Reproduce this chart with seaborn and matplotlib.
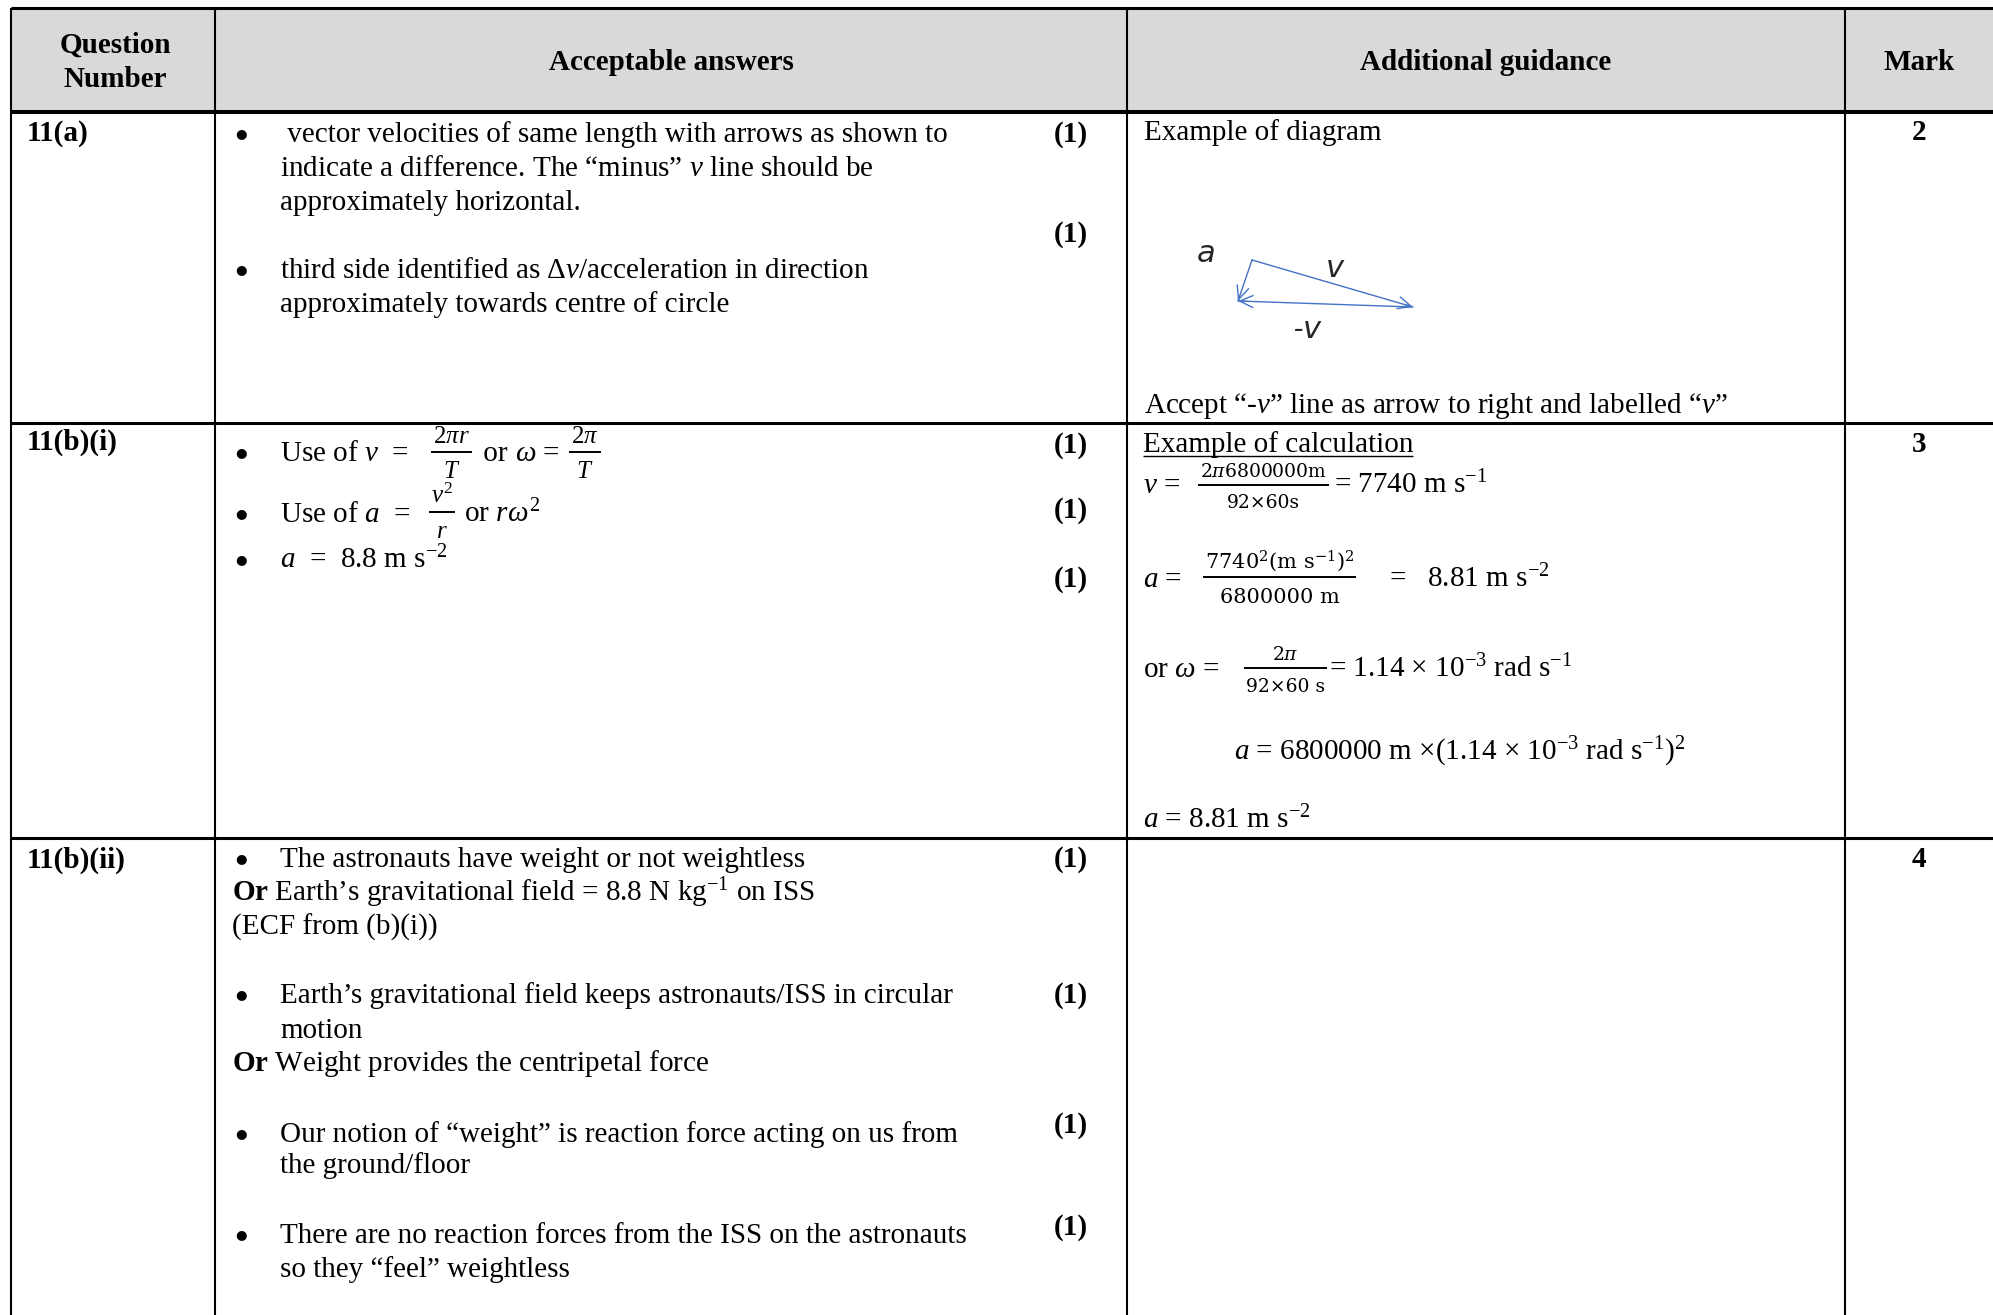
import matplotlib
matplotlib.use("Agg")
import matplotlib.pyplot as plt
import matplotlib.patches
import seaborn as sns

sns.set_theme("paper", style="white")
plt.rcParams["font.family"] = ["Liberation Serif", "DejaVu Serif"]
plt.rcParams["mathtext.fontset"] = "custom"
plt.rcParams["mathtext.rm"] = "Liberation Serif"
plt.rcParams["mathtext.it"] = "Liberation Serif:italic"
plt.rcParams["mathtext.bf"] = "Liberation Serif:bold"

# ---- table content ----
headers = ["Question", "Number", "Acceptable answers", "Additional guidance", "Mark"]
questions = ["11(a)", "11(b)(i)", "11(b)(ii)"]
marks = ["2", "3", "4"]

# a line is a list of pieces: plain strings, or (numerator, denominator) fractions
answers_a = [
    [" vector velocities of same length with arrows as shown to"],
    ["indicate a difference. The “minus” $v$ line should be"],
    ["approximately horizontal."],
    ["third side identified as Δ$v$/acceleration in direction"],
    ["approximately towards centre of circle"],
]
answers_bi = [
    ["Use of $v$  =", (r"$2\pi r$", "$T$"), " or ", r"$\omega$ =", (r"$2\pi$", "$T$")],
    ["Use of $a$  =", ("$v^2$", "$r$"), r" or $r\omega^2$"],
    ["$a$  =  8.8 m s$^{-2}$"],
]
answers_bii = [
    ["The astronauts have weight or not weightless"],
    [r"$\mathbf{Or}$ Earth’s gravitational field = 8.8 N kg$^{-1}$ on ISS"],
    ["(ECF from (b)(i))"],
    ["Earth’s gravitational field keeps astronauts/ISS in circular"],
    ["motion"],
    [r"$\mathbf{Or}$ Weight provides the centripetal force"],
    ["Our notion of “weight” is reaction force acting on us from"],
    ["the ground/floor"],
    ["There are no reaction forces from the ISS on the astronauts"],
    ["so they “feel” weightless"],
]
guidance_a = [
    ["Example of diagram"],
    ["Accept “-$v$” line as arrow to right and labelled “$v$”"],
]
guidance_bi = [
    ["Example of calculation"],
    ["$v$ =", (r"2$\pi$6800000m", "92×60s"), "= 7740 m s$^{-1}$"],
    ["$a$ =", ("7740$^2$(m s$^{-1}$)$^2$", "6800000 m"), "=   8.81 m s$^{-2}$"],
    [r"or $\omega$ =", (r"2$\pi$", "92×60 s"), "= 1.14 × 10$^{-3}$ rad s$^{-1}$"],
    ["$a$ = 6800000 m ×(1.14 × 10$^{-3}$ rad s$^{-1}$)$^2$"],
    ["$a$ = 8.81 m s$^{-2}$"],
]
point_label = "(1)"

# vector diagram (arbitrary units, tail of v at origin)
v_head = [16.1, -4.7]
a_head = [-1.4, -4.1]
diagram_labels = ["$a$", "$v$", "-$v$"]

# ---- layout (pixels) ----
W, H = 1993, 1315
FS = 21
col_x = [11, 215, 1127, 1845]
row_y = [8, 112, 423, 838]

# (baseline, x, bullet)
ans_layout = [
    [(142, 280, True), (176, 280, False), (210, 280, False),
     (278, 280, True), (312, 280, False)],
    [(461, 280, True), (522, 280, True), (568, 280, True)],
    [(867, 280, True), (901, 232, False), (935, 232, False),
     (1003, 280, True), (1038, 280, False), (1071, 232, False),
     (1142, 280, True), (1173, 280, False),
     (1243, 280, True), (1277, 280, False)],
]
guid_layout = [
    [(140, 1144), (413, 1144)],
    [(452, 1143), (493, 1143), (587, 1143), (677, 1143), (760, 1234), (828, 1143)],
]
# fraction placement per line: (bar left x, size, math font, num dy, bar dy, den dy, gap after)
frac_layout = {
    (1, 0): [(431, 18, "custom", -18, -9, 17, 4), (569, 18, "custom", -18, -9, 17, 0)],
    (1, 1): [(429, 18, "custom", -19, -10, 16, 2)],
    (3, 1): [(1198, 13.5, "dejavuserif", -16, -8, 15, 5)],
    (3, 2): [(1203, 15, "dejavuserif", -19, -10, 16, 33)],
    (3, 3): [(1244, 13.5, "dejavuserif", -17, -9, 15, 2)],
}
point_y = [[142, 242], [453, 518, 587], [867, 1003, 1133, 1235]]
question_y = [141, 450, 868]
mark_y = [140, 452, 867]

fig = plt.figure(figsize=(W / 100, H / 100), dpi=100)
fig.patch.set_facecolor("white")
ax = fig.add_axes([0, 0, 1, 1])
ax.set_xlim(0, W)
ax.set_ylim(H, 0)
ax.axis("off")
renderer = fig.canvas.get_renderer()

# header band + grid lines
ax.add_patch(matplotlib.patches.Rectangle((col_x[0], row_y[0]), W - col_x[0], row_y[1] - row_y[0],
                                          facecolor="#d9d9d9", edgecolor="none"))
ax.hlines(row_y[0], col_x[0], W, color="black", lw=2.2)
ax.hlines(row_y[1], col_x[0], W, color="black", lw=2.9)
ax.hlines(row_y[2:], col_x[0], W, color="black", lw=2.2)
ax.vlines(col_x, row_y[0], H, color="black", lw=1.5)


def put(x, y, s, ha="left", weight="normal", size=FS, **kw):
    return ax.text(x, y, s, fontsize=size, ha=ha, va="baseline", weight=weight,
                   color="black", **kw)


def width(t):
    return t.get_window_extent(renderer=renderer).width


def line(x, y, pieces, fracs=()):
    x_start = x
    k = 0
    for p in pieces:
        if isinstance(p, str):
            t = put(x, y, p)
            x += width(t)
        else:
            bx, size, mfont, dn, db, dd, gap = fracs[k]
            k += 1
            kw = {"math_fontfamily": mfont}
            if mfont == "dejavuserif":
                kw["family"] = "DejaVu Serif"
            tn = put(0, y + dn, p[0], ha="center", size=size, **kw)
            td = put(0, y + dd, p[1], ha="center", size=size, **kw)
            w = max(width(tn), width(td)) + 4
            tn.set_x(bx + w / 2)
            td.set_x(bx + w / 2)
            ax.hlines(y + db, bx, bx + w, color="black", lw=1.4)
            x = bx + w + gap
    return x_start, x


# header
put(115, 53, headers[0], ha="center", weight="bold")
put(115, 87, headers[1], ha="center", weight="bold")
put(671, 70, headers[2], ha="center", weight="bold")
put(1486, 70, headers[3], ha="center", weight="bold")
put(1919, 70, headers[4], ha="center", weight="bold")

for q, y in zip(questions, question_y):
    put(27, y, q, weight="bold")
for m, y in zip(marks, mark_y):
    put(1919, y, m, ha="center", weight="bold")

for r, (lines, layout) in enumerate(zip([answers_a, answers_bi, answers_bii], ans_layout)):
    for i, (pieces, (y, x, bullet)) in enumerate(zip(lines, layout)):
        if bullet:
            ax.text(241, y - 8, "●", fontsize=9.5, family="DejaVu Sans",
                    ha="center", va="center", color="black")
        line(x, y, pieces, frac_layout.get((r, i), ()))

for ys in point_y:
    for y in ys:
        put(1071, y, point_label, ha="center", weight="bold")

for r, (lines, layout) in enumerate(zip([guidance_a, guidance_bi], guid_layout)):
    for i, (pieces, (y, x)) in enumerate(zip(lines, layout)):
        x0_, x1_ = line(x, y, pieces, frac_layout.get((r + 2, i), ()))
        if r == 1 and i == 0:
            ax.hlines(y + 4, x0_, x1_, color="black", lw=1.0)

# vector diagram in its own axes, 10 px per unit, origin at (1252, 260)
x0, y0 = 1252, 260
left, right, top, bottom = 1180, 1440, 230, 345
dax = fig.add_axes([left / W, 1 - bottom / H, (right - left) / W, (bottom - top) / H])
dax.set_xlim((left - x0) / 10, (right - x0) / 10)
dax.set_ylim((y0 - bottom) / 10, (y0 - top) / 10)
dax.axis("off")
blue = "#4472C4"
tri_x = [0, v_head[0], a_head[0], 0]
tri_y = [0, v_head[1], a_head[1], 0]
sns.lineplot(x=tri_x, y=tri_y, sort=False, estimator=None, color=blue, lw=1.0, ax=dax)
for tip, back in [(v_head, [0, 0]), (a_head, v_head), (a_head, [0, 0])]:
    dx, dy = tip[0] - back[0], tip[1] - back[1]
    dax.annotate("", xy=tip, xytext=(tip[0] - dx * 0.05, tip[1] - dy * 0.05),
                 arrowprops=dict(arrowstyle="->,head_length=1.0,head_width=0.45",
                                 color=blue, lw=1.0, shrinkA=0, shrinkB=0))
for s, (lx, ly) in zip(diagram_labels, [(-4.7, 0.6), (8.3, -0.9), (5.6, -7.0)]):
    dax.text(lx, ly, s, fontsize=22, ha="center", va="center", family="Open Sans",
             style="italic", math_fontfamily="dejavusans")

fig.savefig("out.png", dpi=100, facecolor="white")
